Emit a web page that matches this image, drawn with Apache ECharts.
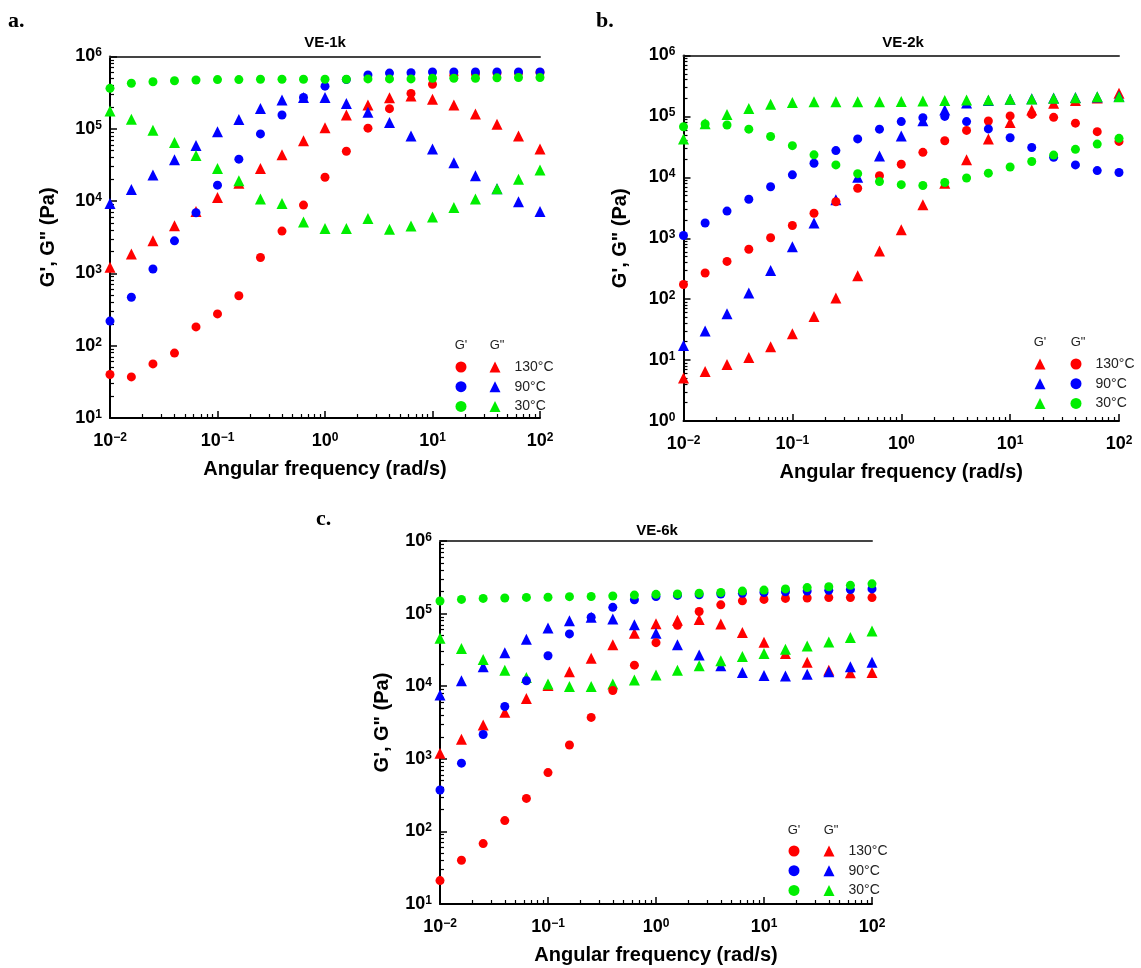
<!DOCTYPE html>
<html>
<head>
<meta charset="utf-8">
<script src="https://cdn.jsdelivr.net/npm/echarts@6/dist/echarts.min.js"></script>
<style>
html,body{margin:0;padding:0;background:#fff;}
#chart{width:1141px;height:968px;}
</style>
</head>
<body>
<div id="chart"></div>
<script>
// ---------- data ----------
const freq = [0.01, 0.0158, 0.0251, 0.0398, 0.0631, 0.1, 0.158, 0.251, 0.398, 0.631, 1, 1.58, 2.51, 3.98, 6.31, 10, 15.8, 25.1, 39.8, 63.1, 100];
const temps = ['130°C', '90°C', '30°C'];
const panelTitles = ['VE-1k', 'VE-2k', 'VE-6k'];
const panelLetters = ['a.', 'b.', 'c.'];

// Panel a (VE-1k): G' = circles, G'' = triangles
const a_Gp_130 = [40, 37, 56, 79, 182, 275, 490, 1660, 3850, 8800, 21400, 49000, 102000, 190000, 309000, 412000, 550000, 575000, 590000, 590000, 600000];
const a_Gp_90 = [219, 468, 1150, 2820, 6900, 16600, 38000, 85000, 155000, 272000, 389000, 479000, 556000, 589000, 596000, 610000, 610000, 610000, 610000, 610000, 610000];
const a_Gp_30 = [363000, 427000, 447000, 462000, 473000, 479000, 479000, 484000, 484000, 484000, 484000, 484000, 490000, 490000, 490000, 501000, 501000, 501000, 507000, 513000, 513000];
const a_Gpp_130 = [1220, 1860, 2820, 4570, 7160, 11200, 17600, 28200, 43600, 68400, 103500, 155000, 214000, 269000, 285000, 257000, 214000, 160000, 116000, 79400, 52500];
const a_Gpp_90 = [9300, 14500, 22900, 37200, 58900, 91200, 135000, 191000, 251000, 272000, 272000, 224000, 170000, 122000, 79400, 52500, 33900, 22400, 14800, 9800, 7160];
const a_Gpp_30 = [176000, 136000, 95500, 64600, 42700, 28200, 19100, 10700, 9300, 5130, 4170, 4170, 5750, 4070, 4520, 6030, 8130, 10700, 14800, 20000, 26900];

// Panel b (VE-2k): G' = triangles, G'' = circles
const b_Gp_130 = [5.1, 6.5, 8.5, 11, 16.6, 27, 52, 105, 243, 617, 1380, 3550, 8000, 19500, 42700, 79400, 128000, 164000, 182000, 200000, 240000];
const b_Gp_90 = [17.4, 30, 57.5, 126, 295, 724, 1780, 4270, 10000, 22400, 47900, 85100, 128000, 166000, 182000, 191000, 195000, 200000, 204000, 209000, 214000];
const b_Gp_30 = [42700, 75900, 108000, 135000, 158000, 170000, 174000, 174000, 174000, 174000, 175000, 179000, 182000, 186000, 186000, 191000, 193000, 198000, 203000, 211000, 211000];
const b_Gpp_130 = [174, 269, 417, 661, 1020, 1620, 2570, 3980, 6610, 10600, 16400, 25700, 39800, 58900, 84100, 102000, 108000, 96600, 77600, 56200, 38900];
const b_Gpp_90 = [1110, 1780, 2790, 4370, 7000, 11000, 17000, 27500, 42700, 61700, 82200, 95500, 100000, 82200, 62400, 44700, 30900, 21400, 16000, 12900, 12000];
const b_Gpp_30 = [67600, 75300, 72400, 61700, 46800, 33100, 23400, 16000, 11500, 8510, 7590, 7330, 8220, 9770, 11700, 14800, 18200, 23200, 28800, 35100, 43700];

// Panel c (VE-6k): G' = circles, G'' = triangles
const c_Gp_130 = [21, 40, 68, 141, 285, 646, 1550, 3720, 8710, 19500, 39800, 69200, 107000, 132000, 150000, 157000, 162000, 164000, 166000, 166000, 166000];
const c_Gp_90 = [372, 871, 2160, 5250, 11900, 26300, 52500, 89100, 122000, 155000, 172000, 178000, 182000, 186000, 191000, 195000, 200000, 204000, 209000, 214000, 219000];
const c_Gp_30 = [149000, 157000, 162000, 164000, 167000, 168000, 171000, 172000, 175000, 180000, 184000, 186000, 191000, 195000, 204000, 211000, 219000, 228000, 234000, 245000, 257000];
const c_Gpp_130 = [1190, 1860, 2920, 4370, 6760, 10200, 15800, 24300, 37200, 53700, 72400, 81300, 83200, 71900, 55000, 40300, 28200, 21400, 16600, 15300, 15500];
const c_Gpp_90 = [7590, 11900, 18600, 28800, 44200, 63100, 79400, 89100, 84100, 70000, 53700, 37200, 26900, 19100, 15500, 14000, 13800, 14600, 15800, 18600, 21400];
const c_Gpp_30 = [45700, 33100, 23400, 16600, 13200, 10700, 9890, 9890, 10700, 12200, 14300, 16600, 19100, 22400, 25700, 28200, 32400, 35900, 40700, 46800, 57500];

// axis ranges
const xRange = [0.01, 100];
const yRanges = [[10, 1e6], [1, 1e6], [10, 1e6]];

// ---------- layout / style ----------
const colors = {'130°C': '#ff0000', '90°C': '#0000ff', '30°C': '#00ee00'};
const grids = [
  {left: 110, top: 56.5, width: 430, height: 361.5},
  {left: 683.5, top: 55.5, width: 435.5, height: 365.5},
  {left: 440, top: 541, width: 432, height: 363}
];
const FONT = 'Liberation Sans, Arial, sans-serif';

function minorValues(lo, hi) {
  const out = [];
  for (let d = lo; d < hi; d *= 10) for (let m = 2; m <= 9; m++) out.push(+(m * d).toPrecision(3));
  return out;
}
function powLabel(v) {
  const e = Math.round(Math.log10(v));
  return '{b|10}{s|' + (e < 0 ? '\u2212' + (-e) : e) + '}';
}
const richLab = {
  b: {fontSize: 18, fontWeight: 'bold', fontFamily: FONT, color: '#000'},
  s: {fontSize: 12, fontWeight: 'bold', fontFamily: FONT, color: '#000', verticalAlign: 'top', padding: [0, 0, 7, 0]}
};

const xAxes = [], yAxes = [];
grids.forEach((g, i) => {
  // main x
  xAxes.push({type: 'log', logBase: 10, gridIndex: i, min: xRange[0], max: xRange[1], position: 'bottom',
    axisLine: {onZero: false, lineStyle: {color: '#000', width: 2}},
    axisTick: {inside: true, length: 7, lineStyle: {color: '#000', width: 1.5}},
    axisLabel: {formatter: powLabel, rich: richLab, margin: 14},
    splitLine: {show: false},
    name: 'Angular frequency (rad/s)', nameLocation: 'middle', nameGap: 41,
    nameTextStyle: {fontSize: 20, fontWeight: 'bold', fontFamily: FONT, color: '#000'}});
  // minor x ticks
  xAxes.push({type: 'log', logBase: 10, gridIndex: i, min: xRange[0], max: xRange[1], position: 'bottom',
    axisLine: {show: false}, axisLabel: {show: false}, splitLine: {show: false},
    axisTick: {inside: true, length: 4, customValues: minorValues(xRange[0], xRange[1]), lineStyle: {color: '#000', width: 1.2}}});
  // top border
  xAxes.push({type: 'log', logBase: 10, gridIndex: i, min: xRange[0], max: xRange[1], position: 'top',
    axisLine: {onZero: false, lineStyle: {color: '#444', width: 2}}, axisTick: {show: false}, axisLabel: {show: false}, splitLine: {show: false}});
  const yr = yRanges[i];
  yAxes.push({type: 'log', logBase: 10, gridIndex: i, min: yr[0], max: yr[1], position: 'left',
    axisLine: {onZero: false, lineStyle: {color: '#000', width: 2}},
    axisTick: {inside: true, length: 7, lineStyle: {color: '#000', width: 1.5}},
    axisLabel: {formatter: powLabel, rich: richLab, margin: 8},
    splitLine: {show: false},
    name: 'G\', G" (Pa)', nameLocation: 'middle', nameGap: [52, 53, 48][i],
    nameTextStyle: {fontSize: 20, fontWeight: 'bold', fontFamily: FONT, color: '#000'}});
  yAxes.push({type: 'log', logBase: 10, gridIndex: i, min: yr[0], max: yr[1], position: 'left',
    axisLine: {show: false}, axisLabel: {show: false}, splitLine: {show: false},
    axisTick: {inside: true, length: 4, customValues: minorValues(yr[0], yr[1]), lineStyle: {color: '#000', width: 1.2}}});
});

// series definitions per panel: [panelIndex, kind, shape, temp, values]
const panelSeries = [
  [0, "G'", 'circle', '130°C', a_Gp_130], [0, "G'", 'circle', '90°C', a_Gp_90], [0, "G'", 'circle', '30°C', a_Gp_30],
  [0, 'G"', 'triangle', '130°C', a_Gpp_130], [0, 'G"', 'triangle', '90°C', a_Gpp_90], [0, 'G"', 'triangle', '30°C', a_Gpp_30],
  [1, 'G"', 'circle', '130°C', b_Gpp_130], [1, 'G"', 'circle', '90°C', b_Gpp_90], [1, 'G"', 'circle', '30°C', b_Gpp_30],
  [1, "G'", 'triangle', '130°C', b_Gp_130], [1, "G'", 'triangle', '90°C', b_Gp_90], [1, "G'", 'triangle', '30°C', b_Gp_30],
  [2, "G'", 'circle', '130°C', c_Gp_130], [2, "G'", 'circle', '90°C', c_Gp_90], [2, "G'", 'circle', '30°C', c_Gp_30],
  [2, 'G"', 'triangle', '130°C', c_Gpp_130], [2, 'G"', 'triangle', '90°C', c_Gpp_90], [2, 'G"', 'triangle', '30°C', c_Gpp_30]
];

const series = panelSeries.map(([p, kind, shape, t, vals]) => ({
  name: panelTitles[p] + ' ' + kind + ' ' + t,
  type: 'scatter',
  xAxisIndex: p * 3, yAxisIndex: p * 2,
  symbol: shape,
  symbolSize: shape === 'circle' ? 9 : 11,
  itemStyle: {color: colors[t], opacity: 1},
  z: shape === 'circle' ? 3 : 2,
  data: freq.map((f, i) => [f, vals[i]])
}));

// legends: [panel, col1 kind, col1 x-center, col2 kind, col2 x-center, first row center y, header y]
const legendSpec = [
  [0, "G'", 461, 'G"', 495, 367, 347],
  [1, "G'", 1040, 'G"', 1076, 364, 344],
  [2, "G'", 794, 'G"', 829, 851, 832]
];
const legends = [], titles = [];
legendSpec.forEach(([p, k1, x1, k2, x2, rowY, hy]) => {
  const common = {orient: 'vertical', top: rowY - 7, padding: 0, itemWidth: 11, itemHeight: 11, itemGap: 5.7, selectedMode: false,
    textStyle: {fontSize: 14, lineHeight: 11, fontFamily: FONT, color: '#222', padding: [0, 0, 0, 9]}};
  legends.push(Object.assign({}, common, {left: x1 - 5.5, data: temps.map(t => panelTitles[p] + ' ' + k1 + ' ' + t), formatter: () => ' '}));
  legends.push(Object.assign({}, common, {left: x2 - 5.5, data: temps.map(t => panelTitles[p] + ' ' + k2 + ' ' + t), formatter: n => n.split(' ').pop()}));
  titles.push({text: k1, left: x1, top: hy - 8, textAlign: 'center', padding: 0, textStyle: {fontSize: 13, fontWeight: 'normal', fontFamily: FONT, color: '#222'}});
  titles.push({text: k2, left: x2 + 2, top: hy - 8, textAlign: 'center', padding: 0, textStyle: {fontSize: 13, fontWeight: 'normal', fontFamily: FONT, color: '#222'}});
});
// panel titles and letters
const titlePos = [[325, 35], [903, 35], [657, 523]];
const letterPos = [[8, 10], [596, 10], [316, 508]];
panelTitles.forEach((t, i) => {
  titles.push({text: t, left: titlePos[i][0], top: titlePos[i][1], textAlign: 'center', padding: 0,
    textStyle: {fontSize: 15, fontWeight: 'bold', fontFamily: FONT, color: '#000'}});
  titles.push({text: panelLetters[i], left: letterPos[i][0], top: letterPos[i][1], padding: 0,
    textStyle: {fontSize: 22, fontWeight: 'bold', fontFamily: 'Liberation Serif, Times New Roman, serif', color: '#000'}});
});

const chart = echarts.init(document.getElementById('chart'), null, {renderer: 'canvas'});
chart.setOption({
  backgroundColor: '#fff',
  animation: false,
  title: titles,
  legend: legends,
  grid: grids,
  xAxis: xAxes,
  yAxis: yAxes,
  series: series
});
</script>
</body>
</html>
